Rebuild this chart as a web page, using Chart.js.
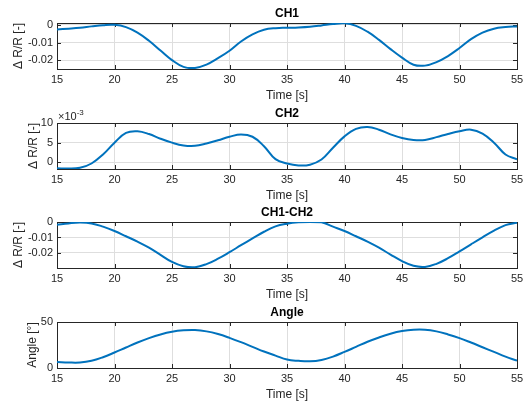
<!DOCTYPE html>
<html>
<head>
<meta charset="utf-8">
<script src="https://cdn.jsdelivr.net/npm/chart.js@4.4.1/dist/chart.umd.min.js"></script>
<style>
  html, body { margin: 0; padding: 0; background: #fff; }
  #wrap { position: relative; width: 532px; height: 406px; overflow: hidden; }
  canvas { position: absolute; left: 0; }
</style>
</head>
<body>
<div id="wrap">
  <canvas id="c1" width="532" height="103" style="top:0px"></canvas>
  <canvas id="c2" width="532" height="103" style="top:100px"></canvas>
  <canvas id="c3" width="532" height="103" style="top:199px"></canvas>
  <canvas id="c4" width="532" height="103" style="top:299px"></canvas>
</div>
<script>
// tempo em segundos (1 s entre amostras)
const time = [15, 16, 17, 18, 19, 20, 21, 22, 23, 24, 25, 26, 27, 28, 29, 30, 31, 32, 33, 34, 35,
              36, 37, 38, 39, 40, 41, 42, 43, 44, 45, 46, 47, 48, 49, 50, 51, 52, 53, 54, 55];

const ch1 = [-0.0026, -0.0022, -0.0017, -0.0009, -0.0002, 0.0000, -0.0013, -0.0044, -0.0090, -0.0145,
             -0.0199, -0.0237, -0.0243, -0.0224, -0.0188, -0.0146, -0.0094, -0.0054, -0.0028, -0.0019,
             -0.0017, -0.0015, -0.0011, -0.0004, 0.0004, 0.0008, -0.0006, -0.0039, -0.0085, -0.0137,
             -0.0185, -0.0225, -0.0230, -0.0210, -0.0176, -0.0131, -0.0081, -0.0044, -0.0022, -0.0013,
             -0.0009];

// CH2 em unidades de 10^-3
const ch2 = [-1.5, -1.6, -1.4, -0.3, 2.0, 5.0, 7.5, 7.9, 7.2, 6.0,
             5.0, 4.3, 4.2, 4.8, 5.6, 6.5, 7.1, 6.5, 4.1, 0.8,
             -0.3, -0.8, -0.6, 0.7, 3.7, 6.6, 8.5, 9.0, 8.3, 7.1,
             6.2, 5.7, 5.7, 6.4, 7.2, 7.9, 8.3, 7.3, 5.0, 2.0,
             0.75];

const ch1ch2 = [-0.0017, -0.0009, -0.0004, -0.0009, -0.0030, -0.0058, -0.0092, -0.0127, -0.0166, -0.0212,
                -0.0258, -0.0286, -0.0292, -0.0272, -0.0237, -0.0195, -0.0150, -0.0106, -0.0063, -0.0028,
                -0.0011, -0.0002, 0.0000, -0.0002, -0.0030, -0.0058, -0.0092, -0.0127, -0.0166, -0.0210,
                -0.0252, -0.0283, -0.0290, -0.0270, -0.0234, -0.0190, -0.0144, -0.0099, -0.0056, -0.0020,
                -0.0004];

const angle = [6.5, 6.0, 6.0, 7.8, 11.7, 16.8, 22.3, 27.7, 32.5, 36.5,
               39.4, 40.9, 41.2, 39.8, 36.9, 32.8, 28.1, 23.0, 17.9, 13.5,
               9.2, 7.8, 7.3, 8.8, 12.4, 17.5, 23.0, 28.5, 33.2, 37.2,
               40.1, 41.6, 41.6, 39.8, 36.5, 32.5, 27.7, 22.6, 17.5, 12.4,
               8.0];

const timeTicks = [15, 20, 25, 30, 35, 40, 45, 50, 55];
const ch1Ticks = [-0.02, -0.01, 0];
const ch2Ticks = [0, 5, 10];
const ch1ch2Ticks = [-0.02, -0.01, 0];
const angleTicks = [0, 50];

const FONT = "'Liberation Sans', Arial, Helvetica, sans-serif";
const AXIS = '#262626';
const GRID = '#dedede';
const BLUE = '#0072BD';

// caixa e marcas para dentro, estilo MATLAB
const boxPlugin = {
  id: 'box',
  beforeDatasetsDraw(chart) {
    const { ctx, chartArea: a, scales: { x, y } } = chart;
    ctx.save();
    ctx.strokeStyle = AXIS;
    ctx.lineWidth = 1;
    ctx.beginPath();
    x.ticks.forEach(t => {
      const px = Math.round(x.getPixelForValue(t.value)) + 0.5;
      ctx.moveTo(px, a.bottom); ctx.lineTo(px, a.bottom - 4);
      ctx.moveTo(px, a.top); ctx.lineTo(px, a.top + 4);
    });
    y.ticks.forEach(t => {
      const py = Math.round(y.getPixelForValue(t.value)) + 0.5;
      ctx.moveTo(a.left, py); ctx.lineTo(a.left + 4, py);
      ctx.moveTo(a.right, py); ctx.lineTo(a.right - 4, py);
    });
    ctx.stroke();
    ctx.strokeRect(Math.round(a.left) + 0.5, Math.round(a.top) + 0.5,
                   Math.round(a.right - a.left), Math.round(a.bottom - a.top));
    ctx.restore();
  }
};

// rótulo do expoente x10^-3
const expPlugin = {
  id: 'exp',
  afterDraw(chart) {
    const { ctx, chartArea: a } = chart;
    ctx.save();
    ctx.fillStyle = AXIS;
    ctx.textBaseline = 'alphabetic';
    ctx.font = '11px ' + FONT;
    ctx.fillText('\u00d710', a.left + 1, a.top - 3);
    const w = ctx.measureText('\u00d710').width;
    ctx.font = '8px ' + FONT;
    ctx.fillText('-3', a.left + 1 + w, a.top - 8);
    ctx.restore();
  }
};

function makeChart(id, title, values, yMin, yMax, yTicks, yTitle, yTitlePad, extra) {
  const points = time.map((t, i) => ({ x: t, y: values[i] }));
  return new Chart(document.getElementById(id), {
    type: 'line',
    data: {
      datasets: [{
        data: points,
        borderColor: BLUE,
        borderWidth: 2,
        pointRadius: 0,
        tension: 0.4,
        fill: false
      }]
    },
    options: {
      responsive: false,
      animation: false,
      layout: { padding: { left: 0, right: 15, top: 0, bottom: 0 } },
      plugins: {
        legend: { display: false },
        tooltip: { enabled: false },
        title: {
          display: true,
          fullSize: false,
          text: title,
          color: '#000',
          font: { family: FONT, size: 12, weight: 'bold', lineHeight: 1 },
          padding: { top: 8, bottom: 3 }
        }
      },
      scales: {
        x: {
          type: 'linear',
          min: 15,
          max: 55,
          afterBuildTicks: s => { s.ticks = timeTicks.map(v => ({ value: v })); },
          afterFit: s => { s.height = 34; },
          grid: { color: GRID, drawTicks: false },
          border: { display: false },
          ticks: {
            color: AXIS,
            font: { family: FONT, size: 11 },
            padding: 4,
            maxRotation: 0,
            autoSkip: false,
            callback: v => String(v)
          },
          title: {
            display: true,
            text: 'Time [s]',
            color: AXIS,
            font: { family: FONT, size: 12 },
            padding: { top: 0, bottom: 0 }
          }
        },
        y: {
          min: yMin,
          max: yMax,
          afterBuildTicks: s => { s.ticks = yTicks.map(v => ({ value: v })); },
          afterFit: s => { s.width = 57; },
          grid: { color: GRID, drawTicks: false },
          border: { display: false },
          ticks: {
            color: AXIS,
            font: { family: FONT, size: 11 },
            padding: 4,
            autoSkip: false,
            callback: v => String(v)
          },
          title: {
            display: true,
            text: yTitle,
            color: AXIS,
            font: { family: FONT, size: 12 },
            padding: { top: yTitlePad, bottom: 0 }
          }
        }
      }
    },
    plugins: [boxPlugin].concat(extra || [])
  });
}

makeChart('c1', 'CH1', ch1, -0.0249, 0.001, ch1Ticks, '\u0394 R/R [-]', 11);
makeChart('c2', 'CH2', ch2, -1.7, 10, ch2Ticks, '\u0394 R/R [-]', 26, [expPlugin]);
makeChart('c3', 'CH1-CH2', ch1ch2, -0.0297, 0, ch1ch2Ticks, '\u0394 R/R [-]', 11);
makeChart('c4', 'Angle', angle, 0, 50, angleTicks, 'Angle [\u00b0]', 25);
</script>
</body>
</html>
